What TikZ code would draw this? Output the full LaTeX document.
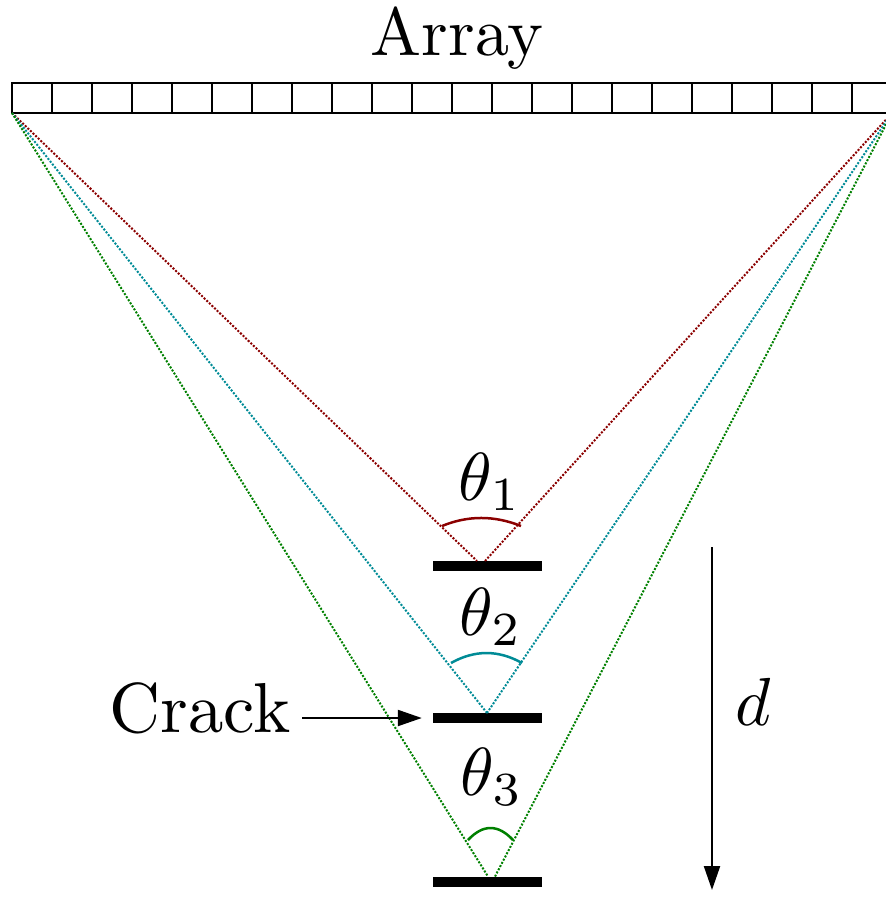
\documentclass[tikz,border=0pt]{standalone}
\usetikzlibrary{arrows.meta}
\definecolor{rayred}{RGB}{139,0,0}
\definecolor{raycyan}{RGB}{0,139,150}
\definecolor{raygreen}{RGB}{0,128,0}
\tikzset{
  cell/.style={draw=black,line width=2.5pt},
  ray/.style={dash pattern=on 2pt off 1.6pt,line width=2pt},
  anglearc/.style={line width=2.5pt},
  crackbar/.style={fill=black,draw=none,minimum width=109pt,minimum height=10pt,inner sep=0pt},
  lbl/.style={inner sep=0pt,scale=6.8},
  pointer/.style={line width=2.2pt,-{Triangle[length=24pt,width=16pt]}}
}
\begin{document}
\begin{tikzpicture}[x=1pt,y=-1pt]
\useasboundingbox (0,0) rectangle (886,897);
\clip (0,0) rectangle (886,897);
% array
\foreach \i in {0,...,21}{
  \draw[cell] ({12+40*\i},83) rectangle ({52+40*\i},113);
}
\node[lbl,anchor=base] (array) at (457,55) {Array};
\coordinate (AL) at (12,113);
\coordinate (AR) at (892,113);
% cracks
\node[crackbar] (c1) at (487.5,566) {};
\node[crackbar] (c2) at (487.5,718) {};
\node[crackbar] (c3) at (487.5,881.5) {};
\coordinate (r1l) at (477,561);
\coordinate (r1r) at (485,561);
\coordinate (r2l) at (487,713);
\coordinate (r2r) at (487,713);
\coordinate (r3l) at (488,876.5);
\coordinate (r3r) at (495,876.5);
% rays
\draw[ray,rayred] (AL) -- (r1l);
\draw[ray,rayred] (r1r) -- (AR);
\draw[ray,raycyan] (AL) -- (r2l);
\draw[ray,raycyan] (r2r) -- (AR);
\draw[ray,raygreen] (AL) -- (r3l);
\draw[ray,raygreen] (r3r) -- (AR);
% angle arcs
\coordinate (a1l) at (442,526);
\coordinate (a1r) at (521,526);
\coordinate (a2l) at (451,663);
\coordinate (a2r) at (522,663);
\coordinate (a3l) at (468,840);
\coordinate (a3r) at (513,840);
\draw[anglearc,rayred] (a1l) .. controls (468,515.3) and (494.3,515.3) .. (a1r);
\draw[anglearc,raycyan] (a2l) .. controls (474.7,649.7) and (498.3,649.7) .. (a2r);
\draw[anglearc,raygreen] (a3l) .. controls (483,824) and (498,824) .. (a3r);
% angle labels
\node[lbl,anchor=base] (t1) at (490,500) {$\theta_1$};
\node[lbl,anchor=base] (t2) at (491,635) {$\theta_2$};
\node[lbl,anchor=base] (t3) at (492,795) {$\theta_3$};
% crack label
\node[lbl,scale=1.04,anchor=base east] (crack) at (292,732) {Crack};
\draw[pointer,shorten <=10pt,shorten >=11pt] (crack.east |- c2) -- (c2.west);
% depth arrow
\coordinate (dtop) at (712,547);
\coordinate (dbot) at (712,890);
\draw[pointer] (dtop) -- (dbot);
\node[lbl,anchor=base] (d) at (753,725) {$d$};
\end{tikzpicture}
\end{document}
